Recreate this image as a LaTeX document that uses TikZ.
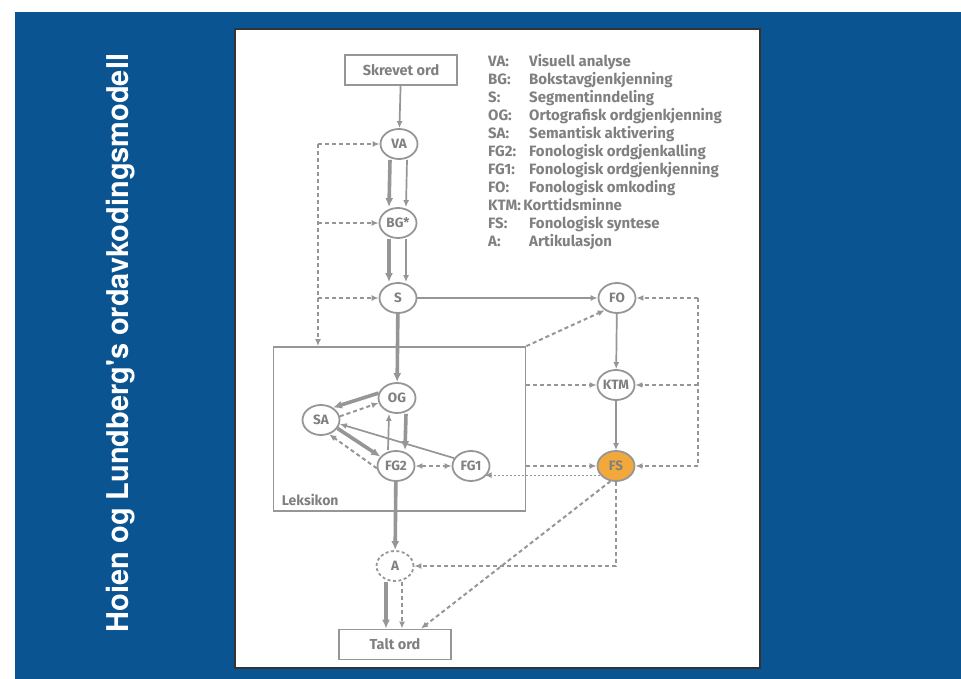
\documentclass[tikz,border=0pt]{standalone}
\usepackage{fontspec}
\setmainfont{Fira Sans}
\newfontfamily\titlefont[FakeStretch=0.965]{TeX Gyre Heros}
\usetikzlibrary{shapes.geometric,arrows.meta,calc}
\definecolor{bgblue}{RGB}{11,84,146}
\definecolor{ln}{RGB}{150,150,150}
\definecolor{tx}{RGB}{128,128,128}
\definecolor{fsfill}{RGB}{242,168,58}
\tikzset{
  proc/.style={ellipse,draw=ln,line width=1.8pt,minimum width=37pt,minimum height=30pt,inner sep=0pt,text=tx,font=\fontsize{13.5}{14}\selectfont\bfseries},
  iobox/.style={rectangle,draw=ln,line width=1.8pt,minimum width=112pt,minimum height=30pt,inner sep=0pt,text=tx,font=\fontsize{14.5}{15}\selectfont\bfseries},
  lexbox/.style={rectangle,draw=ln,line width=1.8pt,minimum width=252pt,minimum height=164pt,inner sep=0pt},
  lextext/.style={text=tx,font=\fontsize{14}{15}\selectfont\bfseries,inner sep=0pt},
  legendtext/.style={text=tx,font=\fontsize{15}{18}\selectfont\bfseries,align=left,inner sep=0pt},
  thinarrow/.style={draw=ln,line width=1.7pt,-{Latex[length=7pt,width=6pt]}},
  thickarrow/.style={draw=ln,line width=3.6pt,-{Latex[length=9pt,width=8pt]}},
  dashline/.style={draw=ln,line width=2pt,dash pattern=on 4pt off 3pt},
  dasharrow/.style={dashline,-{Latex[length=7pt,width=6pt]}},
  dotarrow/.style={draw=ln,line width=1.3pt,dash pattern=on 2pt off 2pt,-{Latex[length=7pt,width=6pt]}}
}
\newcommand{\legrow}[2]{\makebox[41pt][l]{#1}#2}
\begin{document}
\begin{tikzpicture}[x=1pt,y=-1pt]
\useasboundingbox (0,0) rectangle (961,679);
\fill[white] (0,0) rectangle (961,679);
\fill[bgblue] (15,12) rectangle (961,679);
\filldraw[fill=white,draw=black!80,line width=1.5pt] (235,29) rectangle (760,668);

\node[rotate=90,text=white,font=\titlefont\bfseries\fontsize{30}{32}\selectfont] (title) at (121,343) {Hoien og Lundberg's ordavkodingsmodell};

% lexicon box
\node[lexbox] (lex) at (399.5,429) {};
\node[lextext,anchor=south west] (lexlabel) at ([xshift=9pt,yshift=6pt]lex.south west) {Leksikon};

% nodes
\node[iobox] (skrevet) at (401,70) {Skrevet ord};
\node[proc] (va) at (399,144) {VA};
\node[proc] (bg) at (398,223) {BG*};
\node[proc] (s) at (398,298) {S};
\node[proc] (fo) at (617,298) {FO};
\node[proc] (ktm) at (616,385) {KTM};
\node[proc,fill=fsfill] (fs) at (616,466) {FS};
\node[proc] (og) at (397,398) {OG};
\node[proc] (sa) at (321,420) {SA};
\node[proc] (fg2) at (396,466) {FG2};
\node[proc] (fg1) at (471,466) {FG1};
\node[proc,dash pattern=on 3pt off 2.5pt] (a) at (395,566) {A};
\node[iobox] (talt) at (395,644.5) {Talt ord};

% legend
\node[legendtext,anchor=north west] (legend) at (488,54) {%
\legrow{VA:}{Visuell analyse}\\
\legrow{BG:}{Bokstavgjenkjenning}\\
\legrow{S:}{Segmentinndeling}\\
\legrow{OG:}{Ortografisk ordgjenkjenning}\\
\legrow{SA:}{Semantisk aktivering}\\
\legrow{FG2:}{Fonologisk ordgjenkalling}\\
\legrow{FG1:}{Fonologisk ordgjenkjenning}\\
\legrow{FO:}{Fonologisk omkoding}\\
KTM:\,Korttidsminne\\
\legrow{FS:}{Fonologisk syntese}\\
\legrow{A:}{Artikulasjon}};

% main vertical flow
\draw[thinarrow] (skrevet) -- (va);
\draw[thickarrow] ([xshift=-9pt]va.south) -- ([xshift=-9pt]bg.north);
\draw[thinarrow] ([xshift=8pt]va.south) -- ([xshift=8pt]bg.north);
\draw[thickarrow] ([xshift=-9pt]bg.south) -- ([xshift=-9pt]s.north);
\draw[thinarrow] ([xshift=8pt]bg.south) -- ([xshift=8pt]s.north);
\draw[thickarrow] (s) -- (og);
\draw[thinarrow] (s) -- (fo);
\draw[thinarrow] (fo) -- (ktm);
\draw[thinarrow] (ktm) -- (fs);
\draw[thickarrow] (fg2) -- (a);
\draw[thickarrow] ([xshift=-9pt]a.south) -- ([xshift=-9pt]talt.north);
\draw[dasharrow] ([xshift=7pt]a.south) -- ([xshift=7pt]talt.north);

% inside lexicon
\draw[thickarrow] (og.165) -- (sa.46);
\draw[dasharrow] (sa.11) -- (og.195);
\draw[thickarrow] (sa.-27) -- (fg2.149);
\draw[dasharrow] (fg2.187) -- (sa.-60);
\draw[thinarrow] (fg1.155) -- (sa.-12);
\draw[thinarrow] ([xshift=-8pt]fg2.north) -- ([xshift=-8pt]og.south);
\draw[thickarrow] ([xshift=9pt]og.south) -- ([xshift=9pt]fg2.north);
\draw[dashline,{Latex[length=7pt,width=6pt]}-{Latex[length=7pt,width=6pt]}] (fg2) -- (fg1);

% left feedback loop
\coordinate (lx) at (318,0);
\draw[dasharrow] (va -| lx) -- (lex.north -| lx);
\draw[dasharrow] (va -| lx) -- (va);
\draw[dasharrow] (bg -| lx) -- (bg);
\draw[dasharrow] (s -| lx) -- (s);

% right feedback loop
\coordinate (rx) at (698,0);
\draw[dashline] (fo -| rx) -- (fs -| rx);
\draw[dasharrow] (fo -| rx) -- (fo);
\draw[dasharrow] (ktm -| rx) -- (ktm);
\draw[dasharrow] (fs -| rx) -- (fs);

% lexicon to phonological route
\draw[dasharrow] (lex.north east) -- (fo.225);
\draw[dasharrow] (lex.east |- ktm) -- (ktm);
\draw[dasharrow] (lex.east |- fs) -- (fs);
\draw[dotarrow] (fs.210) -- (fs.210 -| fg1.-40);

% synthesis to output
\draw[dasharrow] (fs.south) |- (a.east);
\draw[dasharrow] (fs.250) -- ([xshift=26pt]talt.north);
\end{tikzpicture}
\end{document}
